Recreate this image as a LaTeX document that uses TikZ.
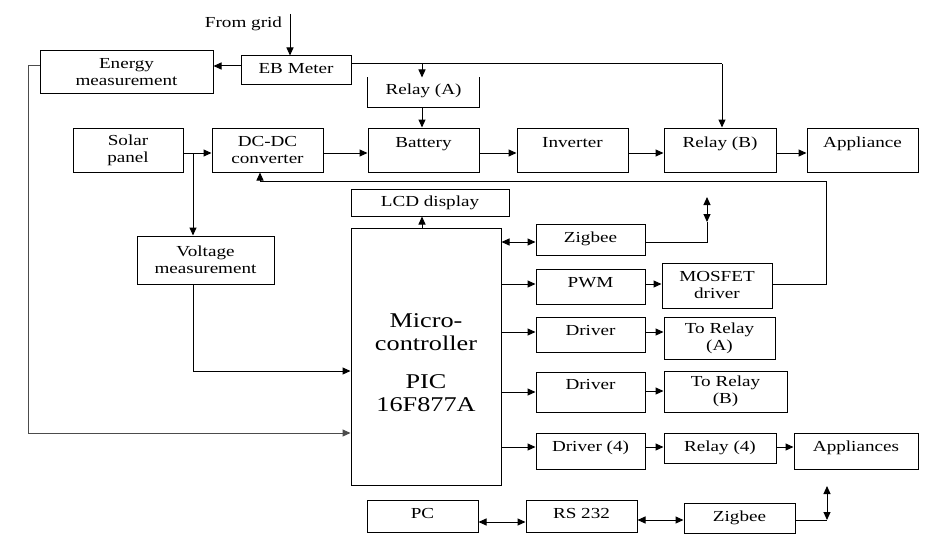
\documentclass[tikz,border=0pt]{standalone}
\usepackage{fontspec}
\setmainfont{Liberation Serif}[FakeStretch=1.25]
\usetikzlibrary{arrows.meta}
\newcommand\bx[7]{%
  \pgfmathsetmacro\bxr{((#3)+(#5))/2-(#6)}%
  \node[box, minimum width={(#4)-(#2)}, minimum height={(#5)-(#3)}] (#1)
    at ({((#2)+(#4))/2},{((#3)+(#5))/2}) {\raisebox{\bxr pt}[0pt][0pt]{#7}};}
\newcommand\bxm[6]{%
  \node[box, align=center, minimum width={(#4)-(#2)}, minimum height={(#5)-(#3)}] (#1)
    at ({((#2)+(#4))/2},{((#3)+(#5))/2}) {#6};}
\begin{document}
\begin{tikzpicture}[x=1pt,y=-1pt,
  box/.style={draw, line width=1pt, inner sep=0pt, font=\fontsize{15.3}{17}\selectfont},
  ln/.style={line width=1pt},
  arr/.style={ln, -{Triangle[length=8pt,width=7pt]}},
  darr/.style={ln, {Triangle[length=8pt,width=7pt]}-{Triangle[length=8pt,width=7pt]}}]
\useasboundingbox (0,0) rectangle (945,543);
\fill[white] (0,0) rectangle (945,543);

% top row
\node[font=\fontsize{15.3}{17}\selectfont, inner sep=0pt, anchor=base] (grid) at (243.5,27.3) {From grid};
\bxm{EM}{40}{51}{213}{93}{Energy\\measurement}
\bx{EB}{241}{56}{351}{84}{74}{EB Meter}
\node[box, draw=none, minimum width=111, minimum height=29] (RA) at (423.5,92.5) {\raisebox{-1.5pt}[0pt][0pt]{Relay (A)}};
\draw[ln] (RA.north west) -- (RA.south west) -- (RA.south east) -- (RA.north east);

% power row
\bxm{SP}{73}{128}{183}{172}{Solar\\panel}
\bxm{DC}{212}{128}{323}{172}{DC-DC\\converter}
\bx{BAT}{368}{128}{479}{172}{147.7}{Battery}
\bx{INV}{517}{128}{628}{172}{147.7}{Inverter}
\bx{RB}{664}{128}{776}{172}{147.7}{Relay (B)}
\bx{APP}{807}{128}{918}{172}{147.5}{Appliance}

% middle
\bx{LCD}{351}{189}{509}{216}{206.7}{LCD display}
\node[box, minimum width=150, minimum height=257, font=\fontsize{21}{23}\selectfont] (MC) at (426,356.5)
  {\raisebox{29pt}[0pt][0pt]{\begin{tabular}[t]{@{}c@{}}Micro-\\controller\\[15pt]PIC\\16F877A\end{tabular}}};
\bxm{VM}{137}{236}{274}{284}{Voltage\\measurement}
\bx{ZB}{536}{224}{645}{255}{242.3}{Zigbee}
\bx{PWM}{536}{269}{645}{304}{287.3}{PWM}
\bxm{MOS}{662}{263}{772}{308}{MOSFET\\driver}
\bx{DR1}{536}{317}{645}{352}{335}{Driver}
\bxm{TRA}{664}{317}{775}{359}{To Relay\\(A)}
\bx{DR2}{536}{372}{645}{412}{389.3}{Driver}
\bxm{TRB}{664}{371}{787}{412}{To Relay\\(B)}
\bx{DR4}{536}{433}{645}{469}{451}{Driver (4)}
\bx{R4}{664}{433}{776}{463}{451}{Relay (4)}
\bx{APS}{794}{433}{918}{469}{451}{Appliances}
\bx{PC}{367}{500}{478}{532}{518.3}{PC}
\bx{RS}{526}{500}{637}{532}{518.3}{RS 232}
\bx{ZB2}{684}{503}{795}{533}{521.7}{Zigbee}

% coordinates
\coordinate (gin) at (290,14);
\coordinate (L1) at (28,66);
\coordinate (L2) at (28,433);
\coordinate (br) at (193,153);
\coordinate (V1) at (193,371);
\coordinate (F1) at (826,284);
\coordinate (F2) at (826,181);
\coordinate (F3) at (260,181);
\coordinate (E1) at (722,64);
\coordinate (E2) at (422,64);
\coordinate (Z1) at (707,242);
\coordinate (Z2) at (707,222);
\coordinate (Z3) at (707,197);
\coordinate (Y1) at (827,520);
\coordinate (Y2) at (827,486);
\coordinate (M1) at (422,0);

% connectors
\draw[arr] (gin) -- (gin |- EB.north);
\draw[arr] (EB.west |- 0,66) -- (EM.east |- 0,66);
\draw[arr, draw=black!70] (EM.west |- L1) -- (L1) -- (L2) -- (MC.west |- L2);
\draw[ln] (EB.east |- E1) -- (E1);
\draw[arr] (E1) -- (E1 |- RB.north);
\draw[arr] (E2) -- (E2 |- RA.north);
\draw[arr] (E2 |- RA.south) -- (E2 |- BAT.north);
\draw[arr] (SP.east |- br) -- (DC.west |- br);
\draw[arr] (br) -- (br |- VM.north);
\draw[arr] (br |- VM.south) -- (V1) -- (MC.west |- V1);
\draw[arr] (DC.east |- br) -- (BAT.west |- br);
\draw[arr] (BAT.east |- br) -- (INV.west |- br);
\draw[arr] (INV.east |- br) -- (RB.west |- br);
\draw[arr] (RB.east |- br) -- (APP.west |- br);
\draw[arr] (MOS.east |- F1) -- (F1) -- (F2) -- (F3) -- (F3 |- DC.south);
\draw[arr] (M1 |- MC.north) -- (M1 |- LCD.south);
\draw[darr] (MC.east |- Z1) -- (ZB.west |- Z1);
\draw[ln] (ZB.east |- Z1) -- (Z1) -- (Z2);
\draw[darr] (Z2) -- (Z3);
\draw[arr] (MC.east |- 0,284) -- (PWM.west |- 0,284);
\draw[arr] (PWM.east |- 0,284) -- (MOS.west |- 0,284);
\draw[arr] (MC.east |- 0,332) -- (DR1.west |- 0,332);
\draw[arr] (DR1.east |- 0,332) -- (TRA.west |- 0,332);
\draw[arr] (MC.east |- 0,392) -- (DR2.west |- 0,392);
\draw[arr] (DR2.east |- 0,391) -- (TRB.west |- 0,391);
\draw[arr] (MC.east |- 0,447) -- (DR4.west |- 0,447);
\draw[arr] (DR4.east |- 0,447) -- (R4.west |- 0,447);
\draw[arr] (R4.east |- 0,447) -- (APS.west |- 0,447);
\draw[darr] (PC.east |- 0,522) -- (RS.west |- 0,522);
\draw[darr] (RS.east |- 0,520) -- (ZB2.west |- 0,520);
\draw[ln] (ZB2.east |- Y1) -- (Y1);
\draw[darr] (Y1) -- (Y2);
\end{tikzpicture}
\end{document}
